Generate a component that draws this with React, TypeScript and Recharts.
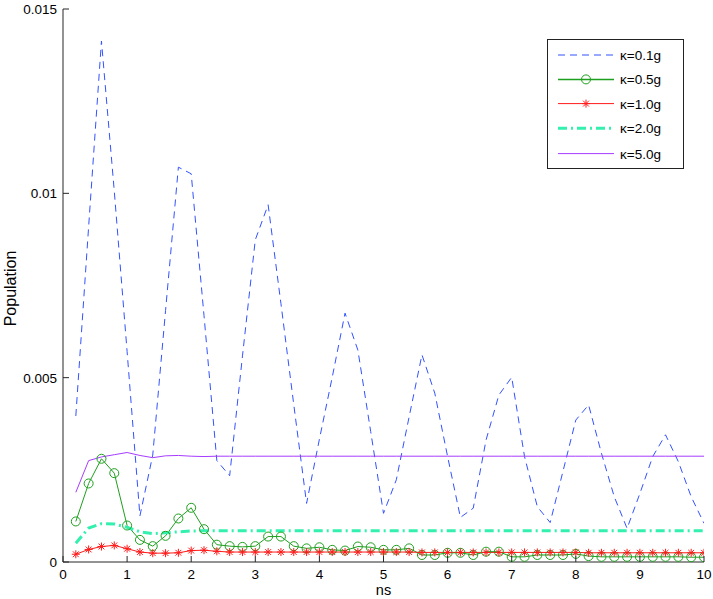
import { LineChart, Line, XAxis, YAxis, Legend } from 'recharts';

// time axis (ns), sampled every 0.2
const ns = [
  0.2, 0.4, 0.6, 0.8, 1.0, 1.2, 1.4, 1.6, 1.8, 2.0,
  2.2, 2.4, 2.6, 2.8, 3.0, 3.2, 3.4, 3.6, 3.8, 4.0,
  4.2, 4.4, 4.6, 4.8, 5.0, 5.2, 5.4, 5.6, 5.8, 6.0,
  6.2, 6.4, 6.6, 6.8, 7.0, 7.2, 7.4, 7.6, 7.8, 8.0,
  8.2, 8.4, 8.6, 8.8, 9.0, 9.2, 9.4, 9.6, 9.8, 10.0,
];

const kappa01 = [
  0.00396, 0.0091, 0.01413, 0.01006, 0.00571, 0.00125, 0.00290, 0.00682, 0.01071, 0.01053,
  0.00668, 0.00275, 0.00234, 0.00559, 0.00874, 0.00969, 0.00701, 0.00427, 0.00159, 0.00333,
  0.00501, 0.00675, 0.00575, 0.00354, 0.00132, 0.00223, 0.00394, 0.00562, 0.00458, 0.00286,
  0.00121, 0.00146, 0.00331, 0.00453, 0.00501, 0.00286, 0.00150, 0.00107, 0.00246, 0.00385,
  0.00426, 0.00295, 0.00177, 0.00091, 0.00186, 0.00286, 0.00345, 0.00272, 0.00177, 0.00105,
];

const kappa05 = [
  0.00110, 0.00213, 0.00280, 0.00241, 0.00099, 0.00060, 0.00043, 0.00071, 0.00118, 0.00147,
  0.00089, 0.00047, 0.00043, 0.00041, 0.00043, 0.00069, 0.00069, 0.00043, 0.00037, 0.00040,
  0.00033, 0.00031, 0.00042, 0.00040, 0.00033, 0.00033, 0.00037, 0.00019, 0.00019, 0.00025,
  0.00025, 0.00019, 0.00028, 0.00028, 0.00014, 0.00014, 0.00019, 0.00019, 0.00019, 0.00022,
  0.00016, 0.00014, 0.00014, 0.00014, 0.00014, 0.00014, 0.00014, 0.00014, 0.00013, 0.00013,
];

const kappa10 = [
  0.00021, 0.00034, 0.00042, 0.00045, 0.00036, 0.00027, 0.00024, 0.00024, 0.00025, 0.00031,
  0.00032, 0.00029, 0.00027, 0.00027, 0.00027, 0.00027, 0.00027, 0.00027, 0.00027, 0.00027,
  0.00027, 0.00027, 0.00027, 0.00027, 0.00027, 0.00027, 0.00027, 0.00026, 0.00026, 0.00026,
  0.00026, 0.00026, 0.00026, 0.00026, 0.00026, 0.00026, 0.00026, 0.00026, 0.00026, 0.00026,
  0.00025, 0.00025, 0.00025, 0.00025, 0.00025, 0.00025, 0.00025, 0.00025, 0.00025, 0.00025,
];

const kappa20 = [
  0.00051, 0.00092, 0.00104, 0.00103, 0.00094, 0.00082, 0.00077, 0.00079, 0.00082, 0.00084,
  0.00085, 0.00085, 0.00085, 0.00085, 0.00085, 0.00085, 0.00085, 0.00085, 0.00085, 0.00085,
  0.00085, 0.00085, 0.00085, 0.00085, 0.00085, 0.00085, 0.00085, 0.00085, 0.00085, 0.00085,
  0.00085, 0.00085, 0.00085, 0.00085, 0.00085, 0.00085, 0.00085, 0.00085, 0.00085, 0.00085,
  0.00085, 0.00085, 0.00085, 0.00085, 0.00085, 0.00085, 0.00085, 0.00085, 0.00085, 0.00085,
];

const kappa50 = [
  0.00189, 0.00275, 0.00285, 0.00291, 0.00297, 0.00289, 0.00283, 0.00288, 0.00289, 0.00287,
  0.00286, 0.00287, 0.00287, 0.00287, 0.00287, 0.00287, 0.00287, 0.00287, 0.00287, 0.00287,
  0.00287, 0.00287, 0.00287, 0.00287, 0.00287, 0.00287, 0.00287, 0.00287, 0.00287, 0.00287,
  0.00287, 0.00287, 0.00287, 0.00287, 0.00287, 0.00287, 0.00287, 0.00287, 0.00287, 0.00287,
  0.00287, 0.00287, 0.00287, 0.00287, 0.00287, 0.00287, 0.00287, 0.00287, 0.00287, 0.00287,
];

const xTicks = [0, 1, 2, 3, 4, 5, 6, 7, 8, 9, 10];
const yTicks = [0, 0.005, 0.01, 0.015];
const labels = ['κ=0.1g', 'κ=0.5g', 'κ=1.0g', 'κ=2.0g', 'κ=5.0g'];

const FONT = '"Liberation Sans", Arial, Helvetica, sans-serif';
const AXIS = '#262626';
const BLUE = '#3352ff';
const GREEN = '#1f9f1f';
const RED = '#ff1a1a';
const MINT = '#33f0ae';
const PURPLE = '#a63cff';
const TICK = 6;

const data = ns.map((x, i) => ({
  x,
  k01: kappa01[i],
  k05: kappa05[i],
  k10: kappa10[i],
  k20: kappa20[i],
  k50: kappa50[i],
}));

const series = [
  { key: 'k01', color: BLUE, width: 1, dash: '7 5', marker: 'none' },
  { key: 'k05', color: GREEN, width: 1, dash: undefined, marker: 'circle' },
  { key: 'k10', color: RED, width: 1, dash: undefined, marker: 'star' },
  { key: 'k20', color: MINT, width: 3, dash: '9 4 2 4', marker: 'none' },
  { key: 'k50', color: PURPLE, width: 1, dash: undefined, marker: 'none' },
];

function Circle({ cx, cy, color }: { cx: number; cy: number; color: string }) {
  return <circle cx={cx} cy={cy} r={4.5} fill="none" stroke={color} strokeWidth={1} />;
}

function Star({ cx, cy, color }: { cx: number; cy: number; color: string }) {
  const r = 4;
  const d = 2.9;
  return (
    <g stroke={color} strokeWidth={1}>
      <line x1={cx - r} y1={cy} x2={cx + r} y2={cy} />
      <line x1={cx} y1={cy - r} x2={cx} y2={cy + r} />
      <line x1={cx - d} y1={cy - d} x2={cx + d} y2={cy + d} />
      <line x1={cx - d} y1={cy + d} x2={cx + d} y2={cy - d} />
    </g>
  );
}

function makeDot(marker: string, color: string) {
  if (marker === 'none') return false;
  return (props: any) => {
    const { cx, cy, index } = props;
    if (cx == null || cy == null) return <g key={`d${index}`} />;
    return marker === 'circle'
      ? <Circle key={`d${index}`} cx={cx} cy={cy} color={color} />
      : <Star key={`d${index}`} cx={cx} cy={cy} color={color} />;
  };
}

// inward tick marks (matlab style box axes), labels only on bottom/left
const BottomTick = (p: any) => (
  <g>
    <line x1={p.x} x2={p.x} y1={p.y} y2={p.y - TICK} stroke={AXIS} />
    <text x={p.x} y={p.y + 17} textAnchor="middle" fontSize={13.5} fontFamily={FONT} fill="#000">
      {p.payload.value}
    </text>
  </g>
);
const TopTick = (p: any) => <line x1={p.x} x2={p.x} y1={p.y} y2={p.y + TICK} stroke={AXIS} />;
const LeftTick = (p: any) => (
  <g>
    <line x1={p.x} x2={p.x + TICK} y1={p.y} y2={p.y} stroke={AXIS} />
    <text x={p.x - 6} y={p.y + 5} textAnchor="end" fontSize={13.5} fontFamily={FONT} fill="#000">
      {p.payload.value}
    </text>
  </g>
);
const RightTick = (p: any) => <line x1={p.x} x2={p.x - TICK} y1={p.y} y2={p.y} stroke={AXIS} />;

function LegendBox() {
  const rows = [16, 40.4, 64.6, 89.2, 114.6];
  return (
    <svg width={137} height={130} style={{ display: 'block' }}>
      <rect x={0.5} y={0.5} width={136} height={129} fill="#fff" stroke="#222" strokeWidth={1} />
      {series.map((s, i) => (
        <g key={s.key}>
          <line
            x1={11} x2={67} y1={rows[i]} y2={rows[i]}
            stroke={s.color}
            strokeWidth={s.marker === 'circle' ? 1.5 : s.width}
            strokeDasharray={s.dash}
          />
          {s.marker === 'circle' && <Circle cx={39} cy={rows[i]} color={s.color} />}
          {s.marker === 'star' && <Star cx={39} cy={rows[i]} color={s.color} />}
          <text x={73} y={rows[i] + 5} fontSize={13.5} fontFamily={FONT} fill="#000">
            {labels[i]}
          </text>
        </g>
      ))}
    </svg>
  );
}

const YLabel = (props: any) => {
  const vb = props.viewBox || { x: 0, y: 9, width: 63, height: 553 };
  const cx = 10;
  const cy = vb.y + vb.height / 2 + 3;
  return (
    <text
      x={cx} y={cy} transform={`rotate(-90 ${cx} ${cy})`}
      textAnchor="middle" dominantBaseline="central"
      fontSize={16} fontFamily={FONT} fill="#000"
    >
      Population
    </text>
  );
};

const XLabel = (props: any) => {
  const vb = props.viewBox || { x: 63, y: 562, width: 641, height: 37 };
  return (
    <text x={vb.x + vb.width / 2} y={595} textAnchor="middle" fontSize={14.5} fontFamily={FONT} fill="#000">
      ns
    </text>
  );
};

export default function App() {
  return (
    <div style={{ position: 'absolute', left: 0, top: 0, width: 713, height: 599, background: '#fff' }}>
      <LineChart width={713} height={599} data={data} margin={{ top: 9, right: 9, left: 0, bottom: 0 }}>
        <XAxis
          xAxisId="b" dataKey="x" type="number" domain={[0, 10]} ticks={xTicks}
          allowDataOverflow height={37} tickSize={0} tickMargin={0} tickLine={false}
          stroke={AXIS} tick={BottomTick} interval={0} label={XLabel}
        />
        <XAxis
          xAxisId="t" orientation="top" dataKey="x" type="number" domain={[0, 10]} ticks={xTicks}
          allowDataOverflow height={0} tickSize={0} tickMargin={0} tickLine={false}
          tick={TopTick} stroke={AXIS} interval={0}
        />
        <YAxis
          yAxisId="l" type="number" domain={[0, 0.015]} ticks={yTicks}
          allowDataOverflow width={63} tickSize={0} tickMargin={0} tickLine={false}
          stroke={AXIS} tick={LeftTick} interval={0} label={YLabel}
        />
        <YAxis
          yAxisId="r" orientation="right" type="number" domain={[0, 0.015]} ticks={yTicks}
          allowDataOverflow width={0} tickSize={0} tickMargin={0} tickLine={false}
          tick={RightTick} stroke={AXIS} interval={0}
        />
        {series.map((s) => (
          <Line
            key={s.key}
            xAxisId="b"
            yAxisId="l"
            type="linear"
            dataKey={s.key}
            stroke={s.color}
            strokeWidth={s.width}
            strokeDasharray={s.dash}
            dot={makeDot(s.marker, s.color)}
            activeDot={false}
            isAnimationActive={false}
          />
        ))}
        <Legend
          layout="vertical"
          align="center"
          verticalAlign="middle"
          wrapperStyle={{ left: 547, top: 39, width: 137, height: 130 }}
          content={() => <LegendBox />}
        />
      </LineChart>
    </div>
  );
}
